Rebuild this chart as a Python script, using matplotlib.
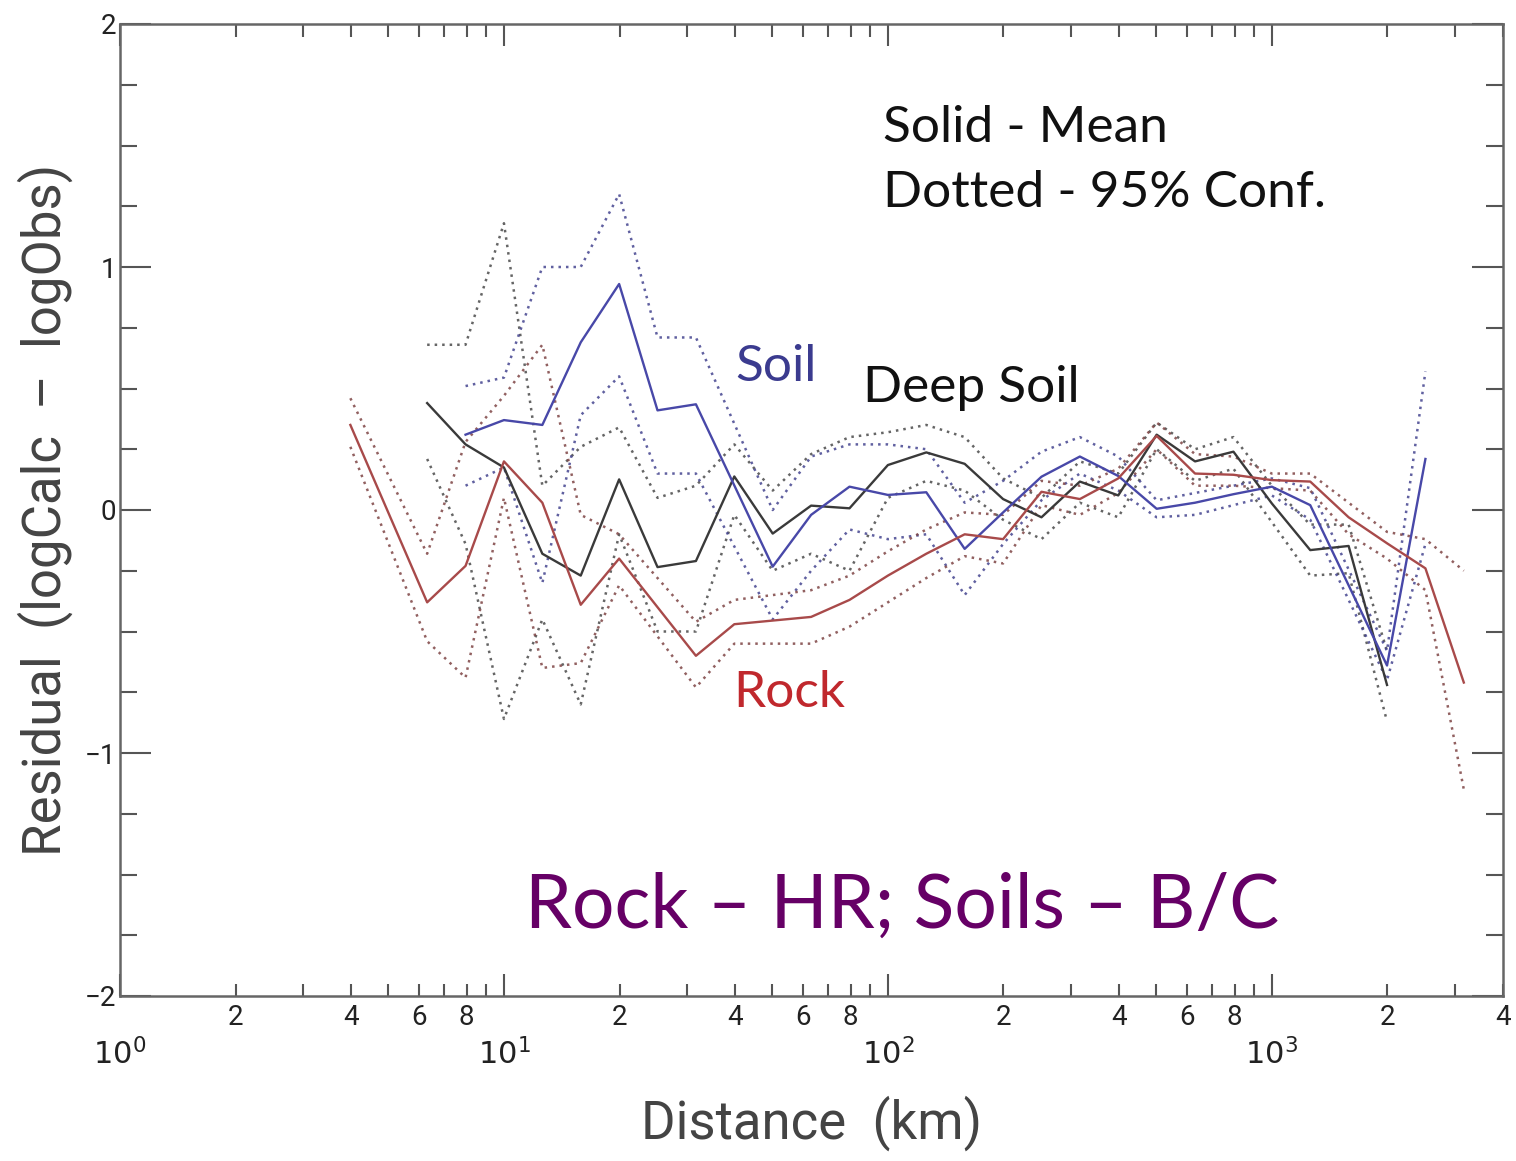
import numpy as np
import matplotlib
matplotlib.use("Agg")
import matplotlib.pyplot as plt
from matplotlib.ticker import FixedLocator, FixedFormatter

# distance bins, log10(km) in steps of 0.1 -> km
def bins(ks):
    return [10 ** (k / 10.0) for k in ks]

# Rock (HR)
rock_k = [6, 8, 9, 10, 11, 12, 13, 15, 16, 18, 19, 20, 21, 22, 23, 24, 25, 26, 27, 28, 29, 30, 31, 32, 33, 34, 35]
rock_mean = [0.35, -0.38, -0.23, 0.20, 0.03, -0.39, -0.20, -0.60, -0.47, -0.44, -0.37, -0.27, -0.18, -0.10, -0.12,
             0.075, 0.045, 0.13, 0.305, 0.15, 0.145, 0.123, 0.117, -0.03, -0.137, -0.24, -0.71]
rock_up = [0.46, -0.18, 0.28, 0.47, 0.68, -0.02, -0.10, -0.46, -0.37, -0.33, -0.27, -0.17, -0.08, -0.01, -0.02,
           0.12, 0.10, 0.17, 0.36, 0.23, 0.22, 0.15, 0.15, 0.03, -0.09, -0.12, -0.25]
rock_lo = [0.26, -0.54, -0.69, 0.05, -0.65, -0.63, -0.31, -0.73, -0.55, -0.55, -0.48, -0.38, -0.28, -0.19, -0.22,
           0.02, -0.02, 0.07, 0.25, 0.10, 0.10, 0.09, 0.08, -0.10, -0.20, -0.33, -1.15]

# Soil (B/C)
soil_k = [9, 10, 11, 12, 13, 14, 15, 17, 18, 19, 20, 21, 22, 23, 24, 25, 26, 27, 28, 29, 30, 31, 33, 34]
soil_mean = [0.31, 0.37, 0.35, 0.69, 0.93, 0.41, 0.435, -0.233, -0.02, 0.096, 0.062, 0.073, -0.16, -0.01,
             0.137, 0.22, 0.14, 0.005, 0.03, 0.065, 0.096, 0.02, -0.64, 0.21]
soil_up = [0.51, 0.545, 1.0, 1.0, 1.30, 0.71, 0.71, 0.0, 0.22, 0.27, 0.27, 0.25, 0.03, 0.12,
           0.24, 0.30, 0.22, 0.04, 0.07, 0.10, 0.13, 0.09, -0.58, 0.57]
soil_lo = [0.10, 0.175, -0.30, 0.39, 0.55, 0.15, 0.15, -0.45, -0.25, -0.08, -0.12, -0.10, -0.35, -0.14,
           0.04, 0.15, 0.08, -0.03, -0.02, 0.02, 0.06, -0.04, -0.70, -0.14]

# Deep soil
deep_k = list(range(8, 34))
deep_mean = [0.44, 0.27, 0.175, -0.18, -0.27, 0.126, -0.235, -0.21, 0.138, -0.097, 0.018, 0.007, 0.185,
             0.237, 0.19, 0.045, -0.03, 0.117, 0.06, 0.31, 0.20, 0.24, 0.027, -0.165, -0.148, -0.72]
deep_up = [0.68, 0.68, 1.18, 0.10, 0.26, 0.34, 0.05, 0.10, 0.27, 0.08, 0.23, 0.30, 0.32,
           0.35, 0.30, 0.13, 0.05, 0.20, 0.15, 0.36, 0.25, 0.30, 0.10, -0.06, -0.06, -0.58]
deep_lo = [0.21, -0.14, -0.86, -0.45, -0.80, -0.10, -0.50, -0.50, -0.02, -0.25, -0.18, -0.25, 0.05,
           0.12, 0.08, -0.04, -0.12, 0.03, -0.03, 0.25, 0.12, 0.17, -0.05, -0.27, -0.26, -0.87]

W, H = 1516, 1161
fig = plt.figure(figsize=(W / 100, H / 100), dpi=100)
ax = fig.add_axes([120 / W, 1 - 996 / H, (1503 - 120) / W, (996 - 24) / H])

narrow = ['Roboto', 'DejaVu Sans']
plt.rcParams['mathtext.fontset'] = 'custom'
plt.rcParams['mathtext.rm'] = 'Roboto'

# dotted 95% confidence bounds
dot_kw = dict(linestyle=(0, (1, 2)), linewidth=1.8)
ax.plot(bins(deep_k), deep_up, color='#4a4a4a', alpha=0.85, **dot_kw)
ax.plot(bins(deep_k), deep_lo, color='#4a4a4a', alpha=0.85, **dot_kw)
ax.plot(bins(soil_k), soil_up, color='#44448f', alpha=0.85, **dot_kw)
ax.plot(bins(soil_k), soil_lo, color='#44448f', alpha=0.85, **dot_kw)
ax.plot(bins(rock_k), rock_up, color='#7e4444', alpha=0.85, **dot_kw)
ax.plot(bins(rock_k), rock_lo, color='#7e4444', alpha=0.85, **dot_kw)

# solid means
ax.plot(bins(deep_k), deep_mean, color='#3a3a3a', linewidth=1.7)
ax.plot(bins(soil_k), soil_mean, color='#4848a8', linewidth=1.7)
ax.plot(bins(rock_k), rock_mean, color='#a84a4a', linewidth=1.7)

ax.set_xscale('log')
ax.set_xlim(1, 4000)
ax.set_ylim(-2, 2)

# x ticks: decades below, 2/4/6/8 minor labels
ax.xaxis.set_major_locator(FixedLocator([1, 10, 100, 1000]))
ax.xaxis.set_major_formatter(FixedFormatter([r'$10^0$', r'$10^1$', r'$10^2$', r'$10^3$']))
minor_pos = []
minor_lab = []
for dec in [1, 10, 100, 1000]:
    for m in range(2, 10):
        v = m * dec
        if v > 4000:
            break
        minor_pos.append(v)
        minor_lab.append(str(m) if m in (2, 4, 6, 8) else '')
ax.xaxis.set_minor_locator(FixedLocator(minor_pos))
ax.xaxis.set_minor_formatter(FixedFormatter(minor_lab))

ax.set_yticks([-2, -1, 0, 1, 2])
ax.set_yticklabels(['\u22122', '\u22121', '0', '1', '2'])
ax.set_yticks(np.arange(-2, 2.01, 0.25), minor=True)

ax.tick_params(which='both', direction='in', top=True, right=True, colors='#555555',
               labelcolor='#222222', width=1.5)
ax.tick_params(axis='x', which='major', length=16, pad=30, labelsize=22)
ax.tick_params(axis='x', which='minor', length=9, pad=6, labelsize=20)
ax.tick_params(axis='y', which='major', length=22, pad=3, labelsize=20)
ax.tick_params(axis='y', which='minor', length=12)
for lab in ax.get_xticklabels(which='both') + ax.get_yticklabels():
    lab.set_family(narrow)
for s in ax.spines.values():
    s.set_color('#666666')
    s.set_linewidth(1.8)

ax.set_xlabel('Distance  (km)', family=narrow, fontsize=38, color='#444444', labelpad=18)
ax.set_ylabel('Residual  (logCalc  \u2013  logObs)', family=narrow, fontsize=38, color='#444444', labelpad=8)

# annotations
txt = ['Lato', 'DejaVu Sans']
fig.text(883 / W, 1 - 142 / H, 'Solid - Mean', family=txt, fontsize=37, color='#111111', va='baseline')
fig.text(883 / W, 1 - 207 / H, 'Dotted - 95% Conf.', family=txt, fontsize=37, color='#111111', va='baseline')
fig.text(735 / W, 1 - 381 / H, 'Soil', family=txt, fontsize=37, color='#3b3b8f', va='baseline')
fig.text(863 / W, 1 - 402 / H, 'Deep Soil', family=txt, fontsize=37, color='#111111', va='baseline')
fig.text(733 / W, 1 - 707 / H, 'Rock', family=txt, fontsize=37, color='#c0282d', va='baseline')
fig.text(525 / W, 1 - 928 / H, 'Rock \u2013 HR; Soils \u2013 B/C', family=txt, fontsize=54,
         color='#660066', va='baseline')

fig.savefig('out.png', dpi=100)
